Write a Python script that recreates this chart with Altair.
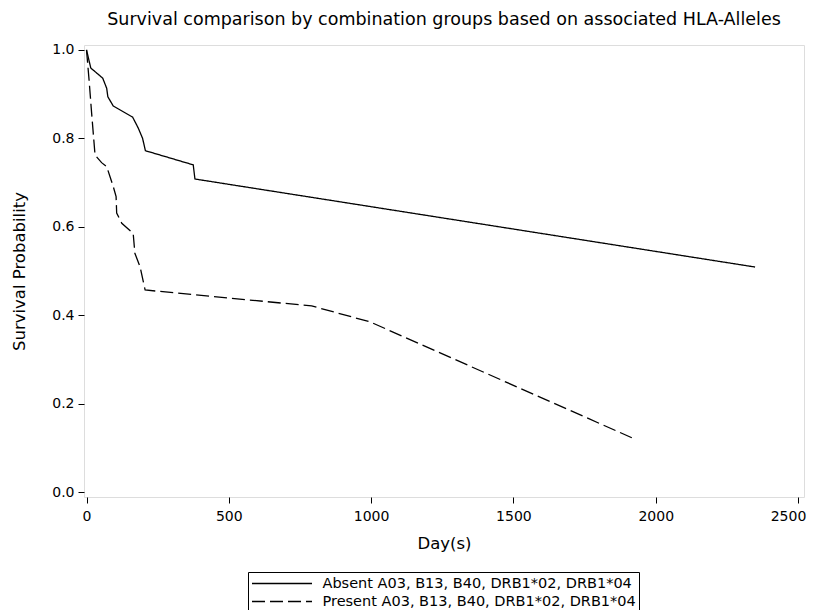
import altair as alt
import pandas as pd

# Kaplan-Meier style curves
absent_label = "Absent A03, B13, B40, DRB1*02, DRB1*04"
present_label = "Present A03, B13, B40, DRB1*02, DRB1*04"

absent_days = [0, 15, 57, 71, 75, 94, 162, 182, 197, 207, 375, 381, 2349]
absent_surv = [1.0, 0.959, 0.936, 0.913, 0.894, 0.873, 0.848, 0.823, 0.800, 0.772, 0.740, 0.708, 0.509]

present_days = [0, 9, 18, 30, 53, 71, 94, 104, 106, 124, 164, 170, 188, 206, 791, 996, 1916]
present_surv = [1.0, 0.932, 0.857, 0.762, 0.745, 0.736, 0.691, 0.668, 0.631, 0.608, 0.585, 0.540, 0.510, 0.457, 0.421, 0.385, 0.123]

x_ticks = [0, 500, 1000, 1500, 2000, 2500]
y_ticks = [0.0, 0.2, 0.4, 0.6, 0.8, 1.0]

rows = []
for i, (d, s) in enumerate(zip(absent_days, absent_surv)):
    rows.append({"day": d, "surv": s, "group": absent_label, "order": i})
for i, (d, s) in enumerate(zip(present_days, present_surv)):
    rows.append({"day": d, "surv": s, "group": present_label, "order": i})
df = pd.DataFrame(rows)

FONT = "DejaVu Sans"

chart = alt.Chart(df).mark_line(color="black", strokeWidth=1.3).encode(
    x=alt.X("day:Q",
            scale=alt.Scale(domain=[-8.8, 2521], nice=False, zero=False),
            axis=alt.Axis(values=x_ticks, format="d", title="Day(s)", grid=False, domain=False,
                          tickSize=6, labelPadding=6, titlePadding=12,
                          labelOffset={"condition": {"test": "datum.value >= 2500", "value": -10}, "value": 0},
                          labelFontSize=14, titleFontSize=16.5, titleFontWeight="normal",
                          labelColor="black", titleColor="black", tickColor="black",
                          labelFont=FONT, titleFont=FONT)),
    y=alt.Y("surv:Q",
            scale=alt.Scale(domain=[-0.011, 1.011], nice=False, zero=False),
            axis=alt.Axis(values=y_ticks, format=".1f", title="Survival Probability", grid=False,
                          domain=False, tickSize=6, labelPadding=4, titlePadding=24,
                          labelFontSize=14, titleFontSize=16.5, titleFontWeight="normal",
                          labelColor="black", titleColor="black", tickColor="black",
                          labelFont=FONT, titleFont=FONT)),
    strokeDash=alt.StrokeDash("group:N",
        scale=alt.Scale(domain=[absent_label, present_label], range=[[1, 0], [13, 5]]),
        legend=alt.Legend(title=None, orient="none", legendX=164, legendY=527,
                          direction="vertical", symbolType="M-4,0H4", symbolSize=225,
                          symbolOffset=22.5, labelOffset=32, symbolStrokeColor="black",
                          symbolStrokeWidth=1.3, labelFontSize=14.5, labelFont=FONT,
                          labelColor="black", strokeColor="black", padding=3,
                          rowPadding=3, labelLimit=500)),
    order="order:Q",
).properties(
    width=720,
    height=452,
    title=alt.TitleParams("Survival comparison by combination groups based on associated HLA-Alleles",
                          fontSize=17.5, font=FONT, fontWeight="normal", color="black",
                          anchor="middle", offset=14),
    autosize=alt.AutoSizeParams(type="none"),
    padding={"left": 76, "top": 37, "right": 3, "bottom": 113},
).configure_view(
    stroke="black", strokeWidth=1
).configure(background="white")

chart.save("out.html", embed_options={"renderer": "svg", "actions": False})
